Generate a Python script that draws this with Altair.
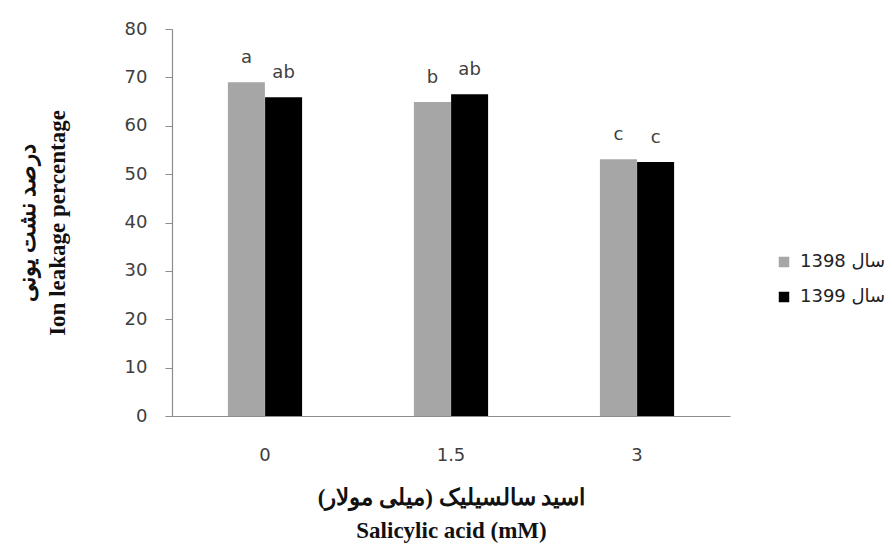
import altair as alt
import pandas as pd

categories = ["0", "1.5", "3"]
years = ["1398 سال", "1399 سال"]
values_1398 = [69.0, 64.9, 53.1]
values_1399 = [65.9, 66.5, 52.5]
letters_1398 = ["a", "b", "c"]
letters_1399 = ["ab", "ab", "c"]

rows = []
for i, c in enumerate(categories):
    rows.append({"cat": c, "year": years[0], "value": values_1398[i], "letter": letters_1398[i]})
    rows.append({"cat": c, "year": years[1], "value": values_1399[i], "letter": letters_1399[i]})
df = pd.DataFrame(rows)

tick_font = "DejaVu Sans"
title_font = "Liberation Serif"

x_enc = alt.X(
    "cat:N",
    sort=categories,
    scale=alt.Scale(paddingInner=0.6, paddingOuter=0.3),
    axis=alt.Axis(
        title=["\u202bاسید سالسیلیک (میلی مولار)\u202c", "Salicylic acid (mM)"],
        labelAngle=0,
        ticks=False,
        labelPadding=30,
        labelFont=tick_font,
        labelFontSize=18,
        labelColor="#404040",
        domainColor="#8c8c8c",
        domainWidth=1.2,
        titleFont=title_font,
        titleFontSize=23,
        titleFontWeight="bold",
        titleColor="#111111",
        titleLineHeight=33,
        titleBaseline="middle",
        titleY=81,
        grid=False,
    ),
)

y_enc = alt.Y(
    "value:Q",
    scale=alt.Scale(domain=[0, 80]),
    axis=alt.Axis(
        title=["درصد نشت یونی", "Ion leakage percentage"],
        values=[0, 10, 20, 30, 40, 50, 60, 70, 80],
        tickSize=7,
        tickColor="#8c8c8c",
        domainColor="#8c8c8c",
        domainWidth=1.2,
        labelPadding=18,
        labelFont=tick_font,
        labelFontSize=18,
        labelColor="#404040",
        titleFont=title_font,
        titleFontSize=23,
        titleFontWeight="bold",
        titleColor="#111111",
        titleLineHeight=30,
        titleBaseline="middle",
        titleX=-145,
        grid=False,
    ),
)

color_enc = alt.Color(
    "year:N",
    sort=years,
    scale=alt.Scale(domain=years, range=["#a6a6a6", "#000000"]),
    legend=alt.Legend(
        title=None,
        orient="none",
        legendX=603,
        legendY=224,
        symbolType="square",
        symbolSize=110,
        symbolStrokeWidth=0,
        labelFont=tick_font,
        labelFontSize=18,
        labelColor="#222222",
        labelLimit=400,
        rowPadding=17,
        labelOffset=7,
    ),
)

bars = alt.Chart(df).mark_bar(size=37).encode(
    x=x_enc,
    xOffset=alt.XOffset("year:N", sort=years, scale=alt.Scale(paddingInner=0, paddingOuter=0)),
    y=y_enc,
    color=color_enc,
)

text = alt.Chart(df).mark_text(
    baseline="alphabetic",
    dy=-19,
    font=tick_font,
    fontSize=18,
    color="#404040",
).encode(
    x=alt.X("cat:N", sort=categories),
    xOffset=alt.XOffset("year:N", sort=years),
    y=alt.Y("value:Q"),
    text="letter:N",
)

chart = (
    alt.layer(bars, text)
    .properties(
        width=558,
        height=387,
        padding={"left": 172, "top": 29, "right": 162, "bottom": 134},
        autosize=alt.AutoSizeParams(type="none"),
        background="white",
    )
    .configure_view(stroke=None)
)

chart.save("out.html", embed_options={"renderer": "svg", "actions": False})
